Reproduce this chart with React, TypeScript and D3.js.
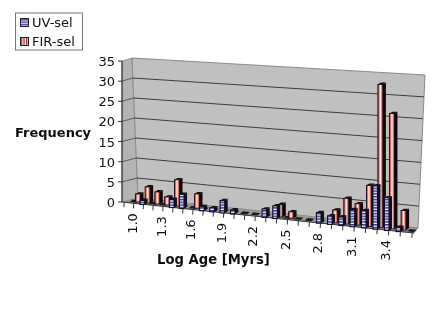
import React from "react";
import * as d3 from "d3";

const categories = ["1.0","1.1","1.2","1.3","1.4","1.5","1.6","1.7","1.8","1.9","2.0","2.1","2.2","2.3","2.4","2.5","2.6","2.7","2.8","2.9","3.0","3.1","3.2","3.3","3.4","3.5","3.6"];
const uvSel = [0,1,0,0,2,3.5,0,1,1,3,1,0,0,2,3,0,0,0,2.5,2,2,4,4,10,7.5,1,0];
const firSel = [2,4,3,2,6.5,0,3.5,0,0,0,0,0,0,0,3,1.5,0,0,0,3,6,5,9.5,33,26.5,4.5,0];
const yTicks = [0,5,10,15,20,25,30,35];
const labelled = ["1.0","1.3","1.6","1.9","2.2","2.5","2.8","3.1","3.4"];

const font = "'DejaVu Sans', Verdana, sans-serif";

const bend = d3.scaleLinear().domain([0, 24]).range([0, 24]);
const xAt = (i: number) => 132 + 9.58 * bend(i) + 0.0417 * bend(i) * bend(i);
const floorY = (x: number) => d3.scaleLinear().domain([122, 414]).range([202, 233])(x);
const unitAt = d3.scaleLinear().domain([0, 27]).range([4.0, 4.4]);
const frontLeftY = d3.scaleLinear().domain([0, 35]).range([202, 61]);
const backLeftY = d3.scaleLinear().domain([0, 35]).range([198, 58]);
const backRightY = d3.scaleLinear().domain([0, 35]).range([228, 75]);
const backLeftX = d3.scaleLinear().domain([0, 35]).range([138, 132]);
const backRightX = d3.scaleLinear().domain([0, 35]).range([418, 425]);

function Bar({ x, base, h, w, fill, side, edge }: { x: number; base: number; h: number; w: number; fill: string; side: string; edge: number }) {
  const dx = 3, dy = 1.8;
  const top = base - h;
  return (
    <g>
      <polygon points={`${x + w},${base} ${x + w + dx},${base - dy} ${x + w + dx},${top - dy} ${x + w},${top}`} fill={side} />
      <polygon points={`${x},${top} ${x + dx},${top - dy} ${x + w + dx},${top - dy} ${x + w},${top}`} fill="#0c0c0c" />
      <rect x={x} y={top} width={w} height={h} fill={fill} stroke="#140c20" strokeWidth={edge} />
    </g>
  );
}

export default function App() {
  return (
    <svg width={436} height={327} style={{ position: "absolute", left: 0, top: 0, background: "#fff" }}>
      <defs>
        <pattern id="blueStripe" width={4} height={2.8} patternUnits="userSpaceOnUse">
          <rect width={4} height={2.8} fill="#f4f4ff" />
          <rect width={4} height={1.5} fill="#34348e" />
        </pattern>
        <linearGradient id="redStripe" x1="0" x2="1" y1="0" y2="0">
          <stop offset="0" stopColor="#8c3226" />
          <stop offset="0.25" stopColor="#e67e6c" />
          <stop offset="0.5" stopColor="#fff8f2" />
          <stop offset="0.75" stopColor="#e67e6c" />
          <stop offset="1" stopColor="#8c3226" />
        </linearGradient>
        <pattern id="legBlue" width={3} height={2.4} patternUnits="userSpaceOnUse">
          <rect width={3} height={2.4} fill="#c8c8f0" />
          <rect width={3} height={1.2} fill="#4a4aa8" />
        </pattern>
        <pattern id="legRed" width={2.6} height={3} patternUnits="userSpaceOnUse">
          <rect width={2.6} height={3} fill="#fff" />
          <rect width={1.3} height={3} fill="#a82a20" />
        </pattern>
        <filter id="soft" x="-2%" y="-2%" width="104%" height="104%">
          <feGaussianBlur stdDeviation={0.35} />
        </filter>
      </defs>
      <g filter="url(#soft)">
        <polygon points={`122,61 ${backLeftX(35)},${backLeftY(35)} ${backLeftX(0)},${backLeftY(0)} 122,202`} fill="#b4b4b4" stroke="#8a8a8a" strokeWidth={0.8} />
        <polygon points={`${backLeftX(35)},${backLeftY(35)} ${backRightX(35)},${backRightY(35)} ${backRightX(0)},${backRightY(0)} ${backLeftX(0)},${backLeftY(0)}`} fill="#c0c0c0" stroke="#8a8a8a" strokeWidth={1} />
        <polygon points={`122,202 ${backLeftX(0)},${backLeftY(0)} ${backRightX(0)},${backRightY(0)} 414,233`} fill="#9c9c9c" stroke="#8a8a8a" strokeWidth={0.6} />
        {yTicks.slice(1, -1).map((t) => (
          <g key={t}>
            <line x1={backLeftX(t)} y1={backLeftY(t)} x2={backRightX(t)} y2={backRightY(t)} stroke="#1a1a1a" strokeWidth={0.8} />
            <line x1={122} y1={frontLeftY(t)} x2={backLeftX(t)} y2={backLeftY(t)} stroke="#444" strokeWidth={0.8} />
          </g>
        ))}
        <line x1={122} y1={61} x2={122} y2={202} stroke="#333" strokeWidth={1.2} />
        <line x1={122} y1={202} x2={414} y2={233} stroke="#333" strokeWidth={1} />
        {yTicks.map((t) => (
          <g key={t}>
            <line x1={118} x2={122} y1={frontLeftY(t)} y2={frontLeftY(t)} stroke="#333" />
            <text x={115} y={frontLeftY(t) + 5} fontSize={13} fontFamily={font} textAnchor="end" fill="#111">{t}</text>
          </g>
        ))}
        {d3.range(categories.length + 1).map((i) => {
          const x = xAt(i - 0.5) - 3;
          return <line key={i} x1={x} x2={x - 0.3} y1={floorY(x)} y2={floorY(x) + 5} stroke="#333" />;
        })}
        {categories.map((c, i) => {
          const bx = xAt(i) - 1.5;
          const rx = xAt(i) + 3.5;
          const u = unitAt(i);
          const sy = floorY(bx);
          return (
            <g key={c}>
              <polygon points={`${bx - 1},${sy - 1} ${bx + 2},${sy - 3.4} ${bx + 9},${sy - 2.6} ${bx + 6},${sy - 0.2}`} fill="#1c1c1c" />
              {firSel[i] > 0 ? <Bar x={rx} base={floorY(rx) - 1.5} h={firSel[i] * u} w={5} fill="url(#redStripe)" side="#120404" edge={0.9} /> : null}
              {uvSel[i] > 0 ? <Bar x={bx} base={floorY(bx) + 0.5} h={uvSel[i] * u} w={4.6} fill="url(#blueStripe)" side="#0e0e28" edge={1.1} /> : null}
            </g>
          );
        })}
        {labelled.map((l) => {
          const i = categories.indexOf(l);
          const x = xAt(i) + 0.5;
          const y = floorY(x) + 10;
          return (
            <text key={l} transform={`translate(${x + 4},${y}) rotate(-90)`} fontSize={13} fontFamily={font} textAnchor="end" fill="#111">{l}</text>
          );
        })}
        <text x={15} y={137} fontSize={13} fontWeight="bold" fontFamily={font} fill="#111">Frequency</text>
        <text x={157} y={264} fontSize={13.2} fontWeight="bold" fontFamily={font} fill="#111">Log Age [Myrs]</text>
        <rect x={15.5} y={13} width={67} height={37} fill="#fff" stroke="#777" />
        <rect x={20.5} y={18.5} width={8} height={8} fill="url(#legBlue)" stroke="#222" />
        <rect x={20.5} y={37.5} width={8} height={8} fill="url(#legRed)" stroke="#222" />
        <text x={32} y={27} fontSize={13} fontFamily={font} fill="#111">UV-sel</text>
        <text x={32} y={46} fontSize={13} fontFamily={font} fill="#111">FIR-sel</text>
      </g>
    </svg>
  );
}
